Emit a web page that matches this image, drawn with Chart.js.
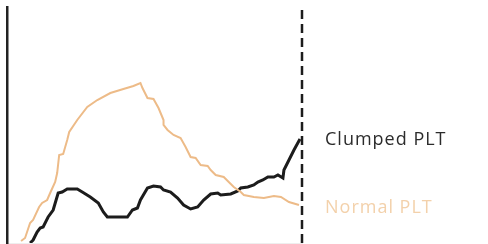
<!DOCTYPE html>
<html>
<head>
<meta charset="utf-8">
<script src="https://cdn.jsdelivr.net/npm/chart.js@4.4.1/dist/chart.umd.min.js"></script>
<style>
  html, body { margin: 0; padding: 0; background: #fff; }
  #wrap { position: relative; width: 488px; height: 244px; }
  .lbl { position: absolute; left: 325px; font-family: "Open Sans", sans-serif; font-size: 18px; line-height: 18px; letter-spacing: 1px; white-space: nowrap; }
  #lblClumped { top: 129px; color: #2b2b2b; }
  #lblNormal { top: 197px; color: #f3d1ab; }
</style>
</head>
<body>
<div id="wrap">
  <canvas id="chart" width="488" height="244"></canvas>
  <div class="lbl" id="lblClumped">Clumped PLT</div>
  <div class="lbl" id="lblNormal">Normal PLT</div>
</div>
<script>
// valores (tiempo vs. señal, unidades arbitrarias)
const normalX = [14, 18, 23, 26, 32, 35, 40, 43, 48, 50, 52, 56, 60, 62, 70, 80, 90, 103, 116, 126, 133, 135, 140, 146, 151, 156, 156, 160, 166, 173, 178, 183, 188, 193, 200, 203, 208, 216, 221, 226, 233, 236, 246, 256, 266, 273, 281, 291];
const normalY = [2, 5, 20, 23, 36, 40, 43, 50, 61, 70, 88, 89, 103, 111, 123, 136, 143, 150, 154, 157, 160, 155, 145, 144, 135, 123, 118, 113, 108, 105, 96, 86, 85, 78, 77, 73, 68, 66, 61, 56, 51, 48, 46, 45, 47, 46, 41, 38];

const clumpedX = [23, 26, 30, 33, 36, 41, 46, 51, 55, 60, 70, 75, 83, 91, 96, 100, 113, 120, 125, 130, 133, 140, 146, 153, 156, 163, 170, 176, 183, 190, 196, 203, 210, 213, 223, 230, 233, 240, 246, 250, 255, 260, 266, 270, 275, 276, 281, 286, 292];
const clumpedY = [0, 3, 11, 15, 16, 26, 33, 50, 51, 54, 54, 51, 46, 40, 31, 26, 26, 26, 33, 35, 43, 55, 57, 56, 53, 51, 45, 38, 34, 36, 43, 49, 50, 48, 49, 52, 55, 56, 58, 61, 63, 66, 66, 68, 65, 73, 83, 93, 104];

const xMax = 294;
const yMax = 236;

function puntos(xs, ys) {
    return xs.map((x, i) => ({ x: x, y: ys[i] }));
}

const ctx = document.getElementById('chart').getContext('2d');
new Chart(ctx, {
    type: 'line',
    data: {
        datasets: [
            {
                label: 'Normal PLT',
                data: puntos(normalX, normalY),
                borderColor: '#edbb88',
                borderWidth: 2,
                pointRadius: 0,
                tension: 0
            },
            {
                label: 'Clumped PLT',
                data: puntos(clumpedX, clumpedY),
                borderColor: '#1c1c1c',
                borderWidth: 3,
                pointRadius: 0,
                tension: 0
            },
            {
                // linea discontinua al final del registro
                label: 'fin',
                data: [{ x: xMax, y: 0 }, { x: xMax, y: yMax - 3 }],
                borderColor: '#1c1c1c',
                borderWidth: 2.5,
                borderDash: [9, 5],
                pointRadius: 0,
                clip: false
            }
        ]
    },
    options: {
        responsive: false,
        animation: false,
        layout: { padding: { left: -1, right: 186, top: 7, bottom: -7 } },
        plugins: { legend: { display: false }, tooltip: { enabled: false } },
        scales: {
            x: {
                type: 'linear',
                min: 0,
                max: xMax,
                grid: { display: false },
                ticks: { display: false },
                border: { color: '#eeeeee', width: 1 }
            },
            y: {
                min: 0,
                max: yMax,
                grid: { display: false },
                ticks: { display: false },
                border: { color: '#222222', width: 2.5 }
            }
        }
    }
});
</script>
</body>
</html>
